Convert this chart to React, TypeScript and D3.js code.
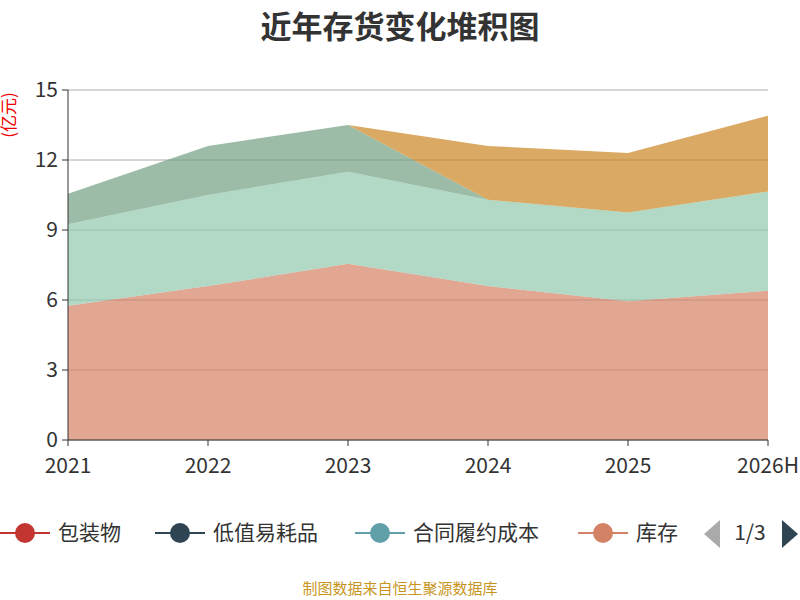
import * as d3 from "d3"

const years = ["2021", "2022", "2023", "2024", "2025", "2026H"]
const kucun = [5.75, 6.6, 7.55, 6.6, 5.95, 6.4]
const hetong = [3.5, 3.9, 3.95, 3.7, 3.8, 4.25]
const yuancailiao = [1.3, 2.1, 2.0, 0, 0, 0]
const zaichanpin = [0, 0, 0, 2.3, 2.55, 3.25]
const yTicks = [0, 3, 6, 9, 12, 15]

const layers = [
  { name: "库存", values: kucun, fill: "#d48265" },
  { name: "合同履约成本", values: hetong, fill: "#91c7ae" },
  { name: "原材料", values: yuancailiao, fill: "#749f83" },
  { name: "在产品", values: zaichanpin, fill: "#ca8622" },
]

const legendItems = [
  { name: "包装物", color: "#c23531" },
  { name: "低值易耗品", color: "#2f4554" },
  { name: "合同履约成本", color: "#61a0a8" },
  { name: "库存", color: "#d48265" },
]

export default function App() {
  const left = 68, right = 768, top = 90, bottom = 440
  const x = d3.scalePoint<string>().domain(years).range([left, right])
  const y = d3.scaleLinear().domain([0, 15]).range([bottom, top])

  const rows = years.map((yr, i) => {
    const r: any = { year: yr }
    layers.forEach((l) => (r[l.name] = l.values[i]))
    return r
  })
  const stacked = d3.stack<any>().keys(layers.map((l) => l.name))(rows)
  const area = d3
    .area<any>()
    .x((d) => x(d.data.year)!)
    .y0((d) => y(d[0]))
    .y1((d) => y(d[1]))

  const font = "'Noto Sans CJK SC', 'Noto Sans', sans-serif"
  const legendX = [0, 155, 355, 578]

  return (
    <svg width={800} height={600} style={{ position: "absolute", left: 0, top: 0 }} fontFamily={font}>
      <rect width={800} height={600} fill="#fff" />
      <text x={400} y={38} textAnchor="middle" fontSize={31} fontWeight="bold" fill="#333">
        近年存货变化堆积图
      </text>
      <text transform="translate(15,115) rotate(-90)" textAnchor="middle" fontSize={17} fill="#e00">
        (亿元)
      </text>
      {yTicks.map((t) => (
        <g key={t}>
          <line x1={left} x2={right} y1={y(t)} y2={y(t)} stroke="#aaa" strokeWidth={1} />
          <line x1={left - 6} x2={left} y1={y(t)} y2={y(t)} stroke="#333" />
          <text x={left - 10} y={y(t)} dy="0.35em" textAnchor="end" fontSize={21} fill="#333">
            {t}
          </text>
        </g>
      ))}
      {stacked.map((s, i) => (
        <path key={s.key} d={area(s)!} fill={layers[i].fill} fillOpacity={0.7} />
      ))}
      <line x1={left} x2={left} y1={top} y2={bottom} stroke="#333" />
      <line x1={left} x2={right} y1={bottom} y2={bottom} stroke="#333" />
      {years.map((yr) => (
        <g key={yr}>
          <line x1={x(yr)} x2={x(yr)} y1={bottom} y2={bottom + 6} stroke="#333" />
          <text x={x(yr)} y={bottom + 33} textAnchor="middle" fontSize={21} fill="#333">
            {yr}
          </text>
        </g>
      ))}
      {legendItems.map((l, i) => (
        <g key={l.name} transform={`translate(${legendX[i]},533)`}>
          <line x1={0} x2={50} y1={0} y2={0} stroke={l.color} strokeWidth={2} />
          <circle cx={25} cy={0} r={10} fill={l.color} />
          <text x={58} y={0} dy="0.35em" fontSize={21} fill="#333">
            {l.name}
          </text>
        </g>
      ))}
      <path d="M720,520 L720,548 L704,534 Z" fill="#aaa" />
      <text x={750} y={533} dy="0.35em" textAnchor="middle" fontSize={21} fill="#333">
        1/3
      </text>
      <path d="M782,520 L782,548 L798,534 Z" fill="#2f4554" />
      <text x={400} y={594} textAnchor="middle" fontSize={15} fill="#c8961e">
        制图数据来自恒生聚源数据库
      </text>
    </svg>
  )
}
